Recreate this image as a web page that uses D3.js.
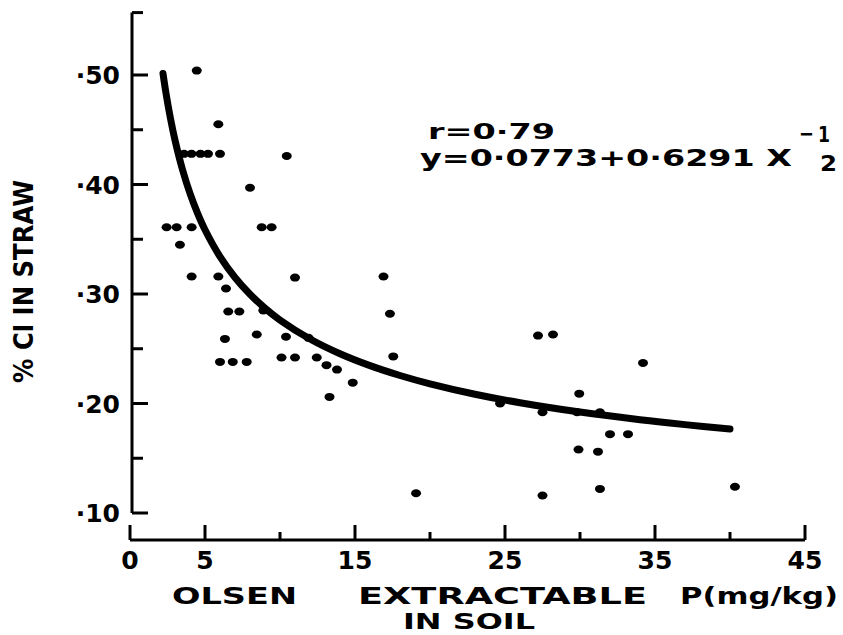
<!DOCTYPE html>
<html>
<head>
<meta charset="utf-8">
<script src="https://cdn.jsdelivr.net/npm/d3@7"></script>
<style>
  body { margin: 0; background: #fff; }
  text { font-family: "DejaVu Sans", sans-serif; font-weight: bold; fill: #000; }
</style>
</head>
<body>
<div id="chartContainer"></div>
<script type="text/javascript">
// observed points: Olsen P (mg/kg) and % Cl in straw
var soilP = [4.45, 5.89,
  3.6, 4.1, 4.7, 5.2, 6.0,
  10.45, 8.0,
  2.44, 3.11, 4.11, 8.78, 9.44,
  3.33,
  4.11, 5.89, 6.4, 11.0, 16.9,
  6.55, 7.29, 8.89, 17.33,
  6.33, 8.45, 10.4, 11.9,
  17.55,
  6.0, 6.85, 7.78, 10.1, 11.0, 12.45,
  13.1, 13.8, 14.85, 13.3,
  19.07,
  27.2, 28.2, 34.2, 29.95, 24.67,
  27.5, 29.8, 31.33,
  32.0, 33.2, 29.9, 31.2,
  27.5, 31.33, 40.33];
var clStraw = [0.504, 0.455,
  0.428, 0.428, 0.428, 0.428, 0.428,
  0.426, 0.397,
  0.361, 0.361, 0.361, 0.361, 0.361,
  0.345,
  0.316, 0.316, 0.305, 0.315, 0.316,
  0.284, 0.284, 0.285, 0.282,
  0.259, 0.263, 0.261, 0.260,
  0.243,
  0.238, 0.238, 0.238, 0.242, 0.242, 0.242,
  0.235, 0.231, 0.219, 0.206,
  0.118,
  0.262, 0.263, 0.237, 0.209, 0.200,
  0.192, 0.192, 0.192,
  0.172, 0.172, 0.158, 0.156,
  0.116, 0.122, 0.124];

// fitted curve y = a + b * x^-1/2, as printed on the chart
var fitA = 0.0773, fitB = 0.6291;
var fitX = [2.2, 2.4, 2.7, 3, 3.5, 4, 4.5, 5, 6, 7, 8, 9, 10, 12, 14, 16, 18, 20, 23, 26, 30, 34, 37, 40];

var xTicks = [0, 5, 10, 15, 20, 25, 30, 35, 40, 45];
var xLabels = [0, 5, 15, 25, 35, 45];
var yTicks = [0.10, 0.15, 0.20, 0.25, 0.30, 0.35, 0.40, 0.45, 0.50, 0.55];
var yLabels = [0.10, 0.20, 0.30, 0.40, 0.50];

var width = 843, height = 635;
var svg = d3.select("#chartContainer").append("svg")
    .attr("width", width).attr("height", height);

var x = d3.scaleLinear().domain([0, 40]).range([130, 730]);
var y = d3.scaleLinear().domain([0.10, 0.50]).range([513, 75]);

// y axis (ticks point into the plot)
var yAxisX = 132;
svg.append("line")
    .attr("x1", yAxisX).attr("x2", yAxisX)
    .attr("y1", y(0.10)).attr("y2", y(0.557))
    .attr("stroke", "#000").attr("stroke-width", 3);
svg.selectAll(".ytick").data(yTicks).enter().append("line")
    .attr("x1", yAxisX)
    .attr("x2", function (d) { return yAxisX + (Math.round(d * 100) % 10 === 0 ? 16 : 11); })
    .attr("y1", function (d) { return y(d === 0.55 ? 0.557 : d); })
    .attr("y2", function (d) { return y(d === 0.55 ? 0.557 : d); })
    .attr("stroke", "#000").attr("stroke-width", 3);
svg.selectAll(".ylab").data(yLabels).enter().append("text")
    .attr("x", 120)
    .attr("y", function (d) { return y(d) + 9; })
    .attr("text-anchor", "end")
    .style("font-size", "25px")
    .text(function (d) { return "·" + d3.format(".2f")(d).slice(2); });

// x axis, drawn apart from the y axis
var xAxisY = 540;
svg.append("line")
    .attr("x1", x(0)).attr("x2", x(45))
    .attr("y1", xAxisY).attr("y2", xAxisY)
    .attr("stroke", "#000").attr("stroke-width", 3);
svg.selectAll(".xtick").data(xTicks).enter().append("line")
    .attr("x1", function (d) { return x(d); })
    .attr("x2", function (d) { return x(d); })
    .attr("y1", xAxisY)
    .attr("y2", function (d) { return xAxisY - (d === 0 || d % 10 === 5 ? 15 : 8); })
    .attr("stroke", "#000").attr("stroke-width", 3);
svg.selectAll(".xlab").data(xLabels).enter().append("text")
    .attr("x", function (d) { return x(d); })
    .attr("y", 569)
    .attr("text-anchor", "middle")
    .style("font-size", "25px")
    .text(function (d) { return d; });

// axis titles
function label(txt, x0, x1, yy, size) {
  svg.append("text")
      .attr("x", x0).attr("y", yy)
      .attr("textLength", x1 - x0).attr("lengthAdjust", "spacingAndGlyphs")
      .style("font-size", size + "px")
      .text(txt);
}
label("OLSEN", 172, 297, 604, 23);
label("EXTRACTABLE", 358, 647, 604, 23);
label("P(mg/kg)", 680, 838, 604, 23);
label("IN SOIL", 403, 535, 629, 22);

svg.append("text")
    .attr("transform", "translate(33,383) rotate(-90)")
    .attr("textLength", 203).attr("lengthAdjust", "spacingAndGlyphs")
    .style("font-size", "26px")
    .text("% Cl IN STRAW");

// equation
label("r=0·79", 428, 555, 139, 22);
label("y=0·0773+0·6291 X", 420, 792, 166, 23);
label("−", 799, 814, 141, 22);
label("1", 818, 830, 142, 22);
label("2", 820, 837, 171, 22);

// fitted curve
var line = d3.line()
    .x(function (d) { return x(d); })
    .y(function (d) { return y(fitA + fitB / Math.sqrt(d)); })
    .curve(d3.curveCatmullRom);
svg.append("path")
    .datum(fitX)
    .attr("d", line)
    .attr("fill", "none")
    .attr("stroke", "#000")
    .attr("stroke-width", 7)
    .attr("stroke-linecap", "round");

// observations
svg.selectAll(".pt").data(soilP).enter().append("ellipse")
    .attr("cx", function (d) { return x(d); })
    .attr("cy", function (d, i) { return y(clStraw[i]); })
    .attr("rx", 5).attr("ry", 4)
    .attr("fill", "#000");
</script>
</body>
</html>
